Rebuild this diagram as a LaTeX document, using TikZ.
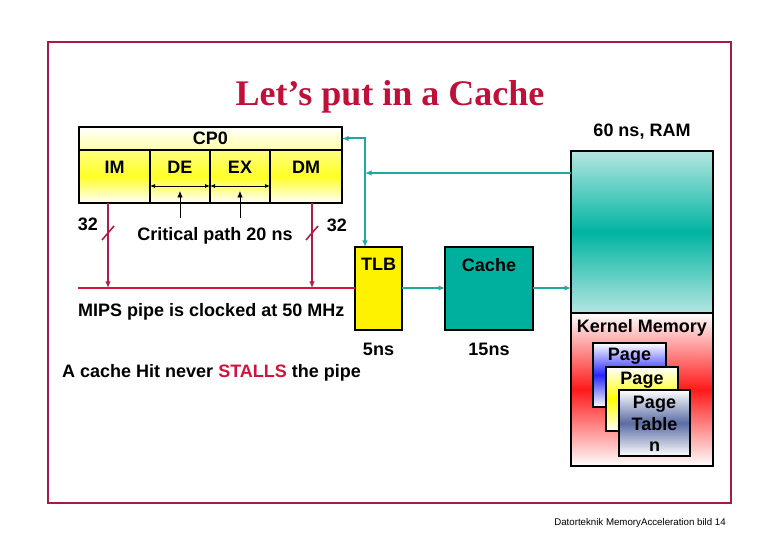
\documentclass[tikz,border=0pt]{standalone}
\usepackage{fontspec}
\setmainfont{Liberation Sans}
\newfontfamily\titlefont{Liberation Serif}
\usetikzlibrary{positioning,arrows.meta}

\definecolor{framered}{HTML}{A41C46}
\definecolor{busred}{HTML}{D0143C}
\definecolor{wirered}{HTML}{B01E46}
\definecolor{titlered}{HTML}{C0103A}
\definecolor{tealline}{HTML}{1EA89E}
\definecolor{cachefill}{HTML}{00B09E}
\definecolor{ramlight}{HTML}{B4E6E0}
\definecolor{ramdark}{HTML}{00B4A2}
\definecolor{slate}{HTML}{5A6CA4}

\newcommand{\cellheight}{53pt}
\newcommand{\cpheight}{23pt}
\newcommand{\lblsize}{\fontsize{18}{21.5}\selectfont\bfseries}

\tikzstyle{lbl}=[font=\lblsize, inner sep=0pt, text=black]
\tikzstyle{box}=[draw=black, line width=1.5pt, shape=rectangle, inner sep=0pt, outer sep=0pt]
\tikzstyle{cp}=[box, top color=white, bottom color=yellow!35, minimum height=\cpheight]
\tikzstyle{cell}=[box, top color=yellow!50, bottom color=white, middle color=yellow!85,
                  minimum height=\cellheight]
\tikzstyle{page}=[box, font=\lblsize, align=center, text depth=0pt]
\tikzstyle{redwire}=[draw=wirered, line width=1.6pt]
\tikzstyle{bus}=[draw=busred, line width=2.6pt]
\tikzstyle{tealwire}=[draw=tealline, line width=2pt]

\begin{document}
\begin{tikzpicture}[x=1pt, y=-1pt, >={Latex[length=6.5pt,width=5.5pt]}]
\useasboundingbox (0,0) rectangle (780,540);

% frame and title
\draw [framered, line width=1.8pt] (48,42) rectangle (731,503);
\node [font=\titlefont\fontsize{36}{40}\selectfont\bfseries, text=titlered] (title) at (390,96.5) {Let’s put in a Cache};

% pipeline
\node [cp, minimum width=263pt, anchor=north west] (cp0) at (79,127) {};
\node [lbl] at (cp0.center) {CP0};
\node [cell, minimum width=71pt, anchor=north west] (im) at (cp0.south west) {};
\node [cell, minimum width=60pt, right=0pt of im] (de) {};
\node [cell, minimum width=60pt, right=0pt of de] (ex) {};
\node [cell, minimum width=72pt, right=0pt of ex] (dm) {};
\node [lbl, below=11pt of im.north] (imtxt) {IM};
\node [lbl, below=11pt of de.north] (detxt) {DE};
\node [lbl, below=11pt of ex.north] (extxt) {EX};
\node [lbl, below=11pt of dm.north] (dmtxt) {DM};

\draw [<->, thick, >={Latex[length=5pt,width=4pt]}] ([yshift=-9.5]de.west) -- ([yshift=-9.5]de.east);
\draw [<->, thick, >={Latex[length=5pt,width=4pt]}] ([yshift=-9.5]ex.west) -- ([yshift=-9.5]ex.east);

\node [lbl] (crit) at (215,236) {Critical path 20 ns};
\draw [->, thick] (de.center |- 0,218) -- (de.center |- 0,191);
\draw [->, thick] (ex.center |- 0,218) -- (ex.center |- 0,191);

% memory side
\node [box, fill=yellow, minimum width=47pt, minimum height=83pt, anchor=north west] (tlb) at (355,247) {};
\node [lbl, below=11pt of tlb.north] {TLB};
\node [box, fill=cachefill, minimum width=88pt, minimum height=83pt, right=43pt of tlb] (cache) {};
\node [lbl, below=11pt of cache.north] {Cache};
\node [lbl, below=13pt of tlb.south] (tlbt) {5ns};
\node [lbl, below=13pt of cache.south] (cachet) {15ns};

\node [box, top color=ramlight, bottom color=ramlight, middle color=ramdark,
       minimum width=142pt, minimum height=162pt, anchor=north west] (ram) at (571,151) {};
\node [lbl, above=12pt of ram.north] (ramtxt) {60 ns, RAM};
\node [box, top color=white, bottom color=white, middle color=red!90,
       minimum width=142pt, minimum height=153pt, below=0pt of ram] (kern) {};
\node [lbl, below=6pt of kern.north] (kerntxt) {Kernel Memory};

\node [page, top color=white, bottom color=white, middle color=blue!85,
       minimum width=73pt, minimum height=64pt, anchor=north west] (pg1) at (593,343) {};
\node [lbl, below=5pt of pg1.north] {Page};
\node [page, top color=white, bottom color=white, middle color=yellow,
       minimum width=72pt, minimum height=64pt, anchor=north west] (pg2) at (606,367) {};
\node [lbl, below=5pt of pg2.north] {Page};
\node [page, top color=white, bottom color=white, middle color=slate,
       minimum width=71pt, minimum height=66pt, anchor=north west] (ptab) at (619,390) {};
\node [lbl, align=center, below=6pt of ptab.north] {Page\\Table\\n};

% teal connectors
\coordinate (jn) at (365,173);
\draw [tealwire, ->] (ram.west |- jn) -- (jn);
\draw [tealwire, ->] (jn) |- (cp0.east);
\draw [tealwire, ->] (jn) -- (tlb.north -| jn);
\draw [tealwire, ->] (tlb.east |- 0,288) -- (cache.west |- 0,288);
\draw [tealwire, ->] (cache.east |- 0,288) -- (ram.west |- 0,288);

% red wires
\coordinate (busL) at (78,288);
\coordinate (imout) at ([xshift=-6.5]im.south);
\coordinate (dmout) at ([xshift=6]dm.south);
\draw [bus] (busL) -- (tlb.west |- busL);
\draw [redwire, ->] (imout) -- (imout |- busL);
\draw [redwire, ->] (dmout) -- (dmout |- busL);
\draw [redwire] (imout |- 0,233) ++(-6,7) -- ++(12,-14);
\draw [redwire] (dmout |- 0,233) ++(-6,7) -- ++(12,-14);
\node [lbl] (w1) at (88,224) {32};
\node [lbl] (w2) at (337,225) {32};

% texts
\node [lbl, anchor=west] (mips) at (78,312) {MIPS pipe is clocked at 50 MHz};
\node [lbl, anchor=west] (hit) at (62,373) {A cache Hit never \textcolor{busred}{STALLS} the pipe};
\node [font=\fontsize{9.7}{11}\selectfont, inner sep=0pt] (foot) at (640,523) {Datorteknik MemoryAcceleration bild 14};
\end{tikzpicture}
\end{document}
